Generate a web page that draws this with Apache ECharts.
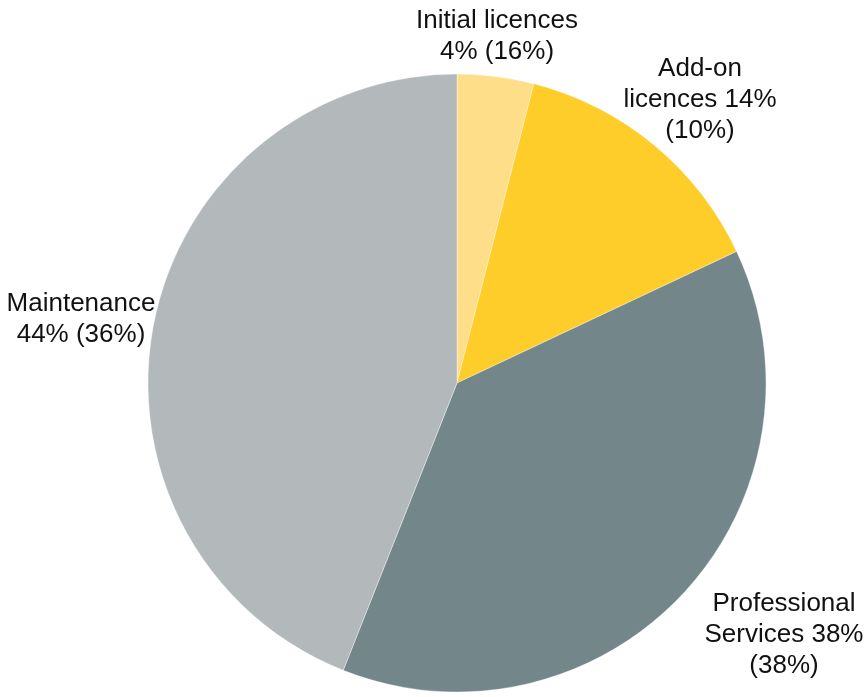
<!DOCTYPE html>
<html>
<head>
<meta charset="utf-8">
<script src="https://cdn.jsdelivr.net/npm/echarts@6/dist/echarts.min.js"></script>
<style>html,body{margin:0;padding:0;background:#fff}#c{width:865px;height:697px}</style>
</head>
<body>
<div id="c"></div>
<script>
const categories = ['Initial licences', 'Add-on licences', 'Professional Services', 'Maintenance'];
const values = [4, 14, 38, 44];
const priorValues = [16, 10, 38, 36];
const labelTexts = [
  'Initial licences\n4% (16%)',
  'Add-on\nlicences 14%\n(10%)',
  'Professional\nServices 38%\n(38%)',
  'Maintenance\n44% (36%)'
];
const colors = ['#FFDE8A', '#FFCD29', '#73868A', '#B3B8BB'];
const labelCenters = [[497, 36], [700, 100], [784, 635], [81, 319]];

const chart = echarts.init(document.getElementById('c'), null, {renderer: 'canvas'});
chart.setOption({
  animation: false,
  series: [{
    type: 'pie',
    center: [457, 383],
    radius: [0, 309],
    startAngle: 90,
    clockwise: true,
    silent: true,
    data: categories.map((n, i) => ({
      name: n,
      value: values[i],
      itemStyle: {color: colors[i]}
    })),
    itemStyle: {borderColor: 'rgba(255,255,255,0.6)', borderWidth: 0.6},
    label: {
      show: true,
      position: 'outside',
      formatter: p => labelTexts[p.dataIndex],
      fontFamily: 'Liberation Sans, Arial, sans-serif',
      fontSize: 26,
      lineHeight: 31,
      color: '#111',
      align: 'center',
      overflow: 'none',
      width: 300
    },
    labelLine: {show: false},
    labelLayout: p => ({
      x: labelCenters[p.dataIndex][0],
      y: labelCenters[p.dataIndex][1],
      align: 'center',
      verticalAlign: 'middle'
    })
  }]
});
</script>
</body>
</html>
